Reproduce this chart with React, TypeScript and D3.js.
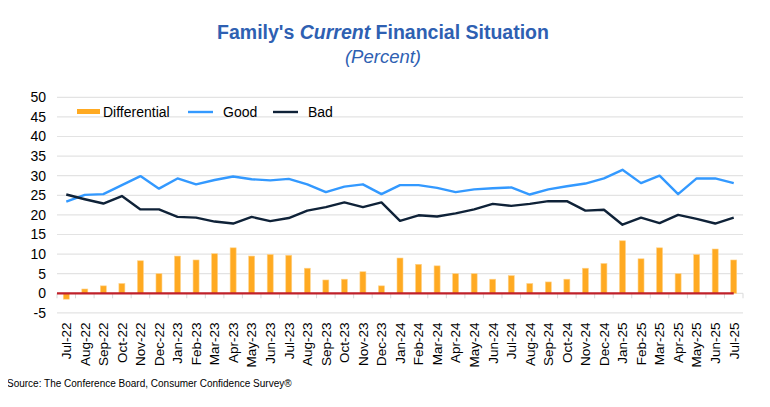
import * as d3 from "d3";

const months = [
  "Jul-22", "Aug-22", "Sep-22", "Oct-22", "Nov-22", "Dec-22",
  "Jan-23", "Feb-23", "Mar-23", "Apr-23", "May-23", "Jun-23",
  "Jul-23", "Aug-23", "Sep-23", "Oct-23", "Nov-23", "Dec-23",
  "Jan-24", "Feb-24", "Mar-24", "Apr-24", "May-24", "Jun-24",
  "Jul-24", "Aug-24", "Sep-24", "Oct-24", "Nov-24", "Dec-24",
  "Jan-25", "Feb-25", "Mar-25", "Apr-25", "May-25", "Jun-25", "Jul-25",
];

const good = [
  23.4, 25.1, 25.3, 27.6, 29.9, 26.7, 29.3, 27.8, 28.9, 29.8, 29.1, 28.8,
  29.2, 27.8, 25.8, 27.2, 27.8, 25.3, 27.6, 27.6, 26.9, 25.8, 26.5, 26.8,
  27.0, 25.2, 26.5, 27.3, 28.0, 29.3, 31.5, 28.1, 30.0, 25.3, 29.3, 29.3, 28.1,
];

const bad = [
  25.2, 24.0, 22.9, 24.8, 21.4, 21.4, 19.5, 19.3, 18.3, 17.8, 19.5, 18.4,
  19.2, 21.1, 22.0, 23.2, 22.0, 23.2, 18.5, 19.9, 19.6, 20.4, 21.4, 22.8,
  22.3, 22.8, 23.5, 23.5, 21.1, 21.3, 17.5, 19.3, 17.9, 20.0, 19.0, 17.8, 19.3,
];

const differential = [
  -1.5, 1.1, 1.9, 2.5, 8.3, 5.0, 9.5, 8.5, 10.1, 11.6, 9.5, 9.9,
  9.7, 6.4, 3.4, 3.6, 5.5, 1.9, 9.0, 7.4, 7.0, 5.0, 5.0, 3.6,
  4.5, 2.5, 2.9, 3.6, 6.4, 7.6, 13.4, 8.8, 11.6, 5.0, 9.9, 11.3, 8.5,
];

const yTicks = [-5, 0, 5, 10, 15, 20, 25, 30, 35, 40, 45, 50];

const W = 770;
const H = 407;
// plot box
const plot = { left: 57, right: 743, top: 97.3, bottom: 312.9 };
const font = "Arial, 'Liberation Sans', sans-serif";
const orange = "#FFAA22";
const blue = "#3399FF";
const navy = "#0F2238";
const red = "#C0202A";
const titleBlue = "#2E60B2";

export default function App() {
  const x = d3.scaleBand<string>().domain(months).range([plot.left, plot.right]);

  const y = d3.scaleLinear().domain([-5, 50]).range([plot.bottom, plot.top]);

  const cx = (m: string) => (x(m) ?? 0) + x.bandwidth() / 2;
  const barW = 6;

  const line = d3
    .line<number>()
    .x((_, i) => cx(months[i]))
    .y((d) => y(d));

  return (
    <div style={{ margin: -8 }}>
      <svg width={W} height={H} style={{ display: "block", fontFamily: font }}>
        <rect width={W} height={H} fill="#fff" />

        {/* Title */}
        <text x={383} y={39} textAnchor="middle" fontSize={19.5} fontWeight="bold" fill={titleBlue}>
          Family's <tspan fontStyle="italic">Current</tspan> Financial Situation
        </text>
        <text x={383} y={62.5} textAnchor="middle" fontSize={18.5} fontStyle="italic" fill={titleBlue}>
          (Percent)
        </text>

        {/* Grid + y labels */}
        {yTicks.map((t) => (
          <g key={t}>
            <line x1={plot.left} x2={plot.right} y1={y(t)} y2={y(t)} stroke="#E3E3E3" strokeWidth={1.2} />
            <text x={46} y={y(t)} dy="0.35em" textAnchor="end" fontSize={14} fill="#000">
              {t}
            </text>
          </g>
        ))}

        {/* Category ticks */}
        {months.map((m) => (
          <line key={"t" + m} x1={x(m)} x2={x(m)} y1={y(0)} y2={y(0) + 5} stroke="#D9D9D9" />
        ))}
        <line x1={plot.right} x2={plot.right} y1={y(0)} y2={y(0) + 5} stroke="#D9D9D9" />

        {/* Bars */}
        {differential.map((d, i) => (
          <rect
            key={"b" + i}
            x={cx(months[i]) - barW / 2}
            y={Math.min(y(d), y(0))}
            width={barW}
            height={Math.abs(y(d) - y(0))}
            fill={orange}
            stroke="#FFD38A"
            strokeWidth={0.6}
          />
        ))}

        {/* Zero line */}
        <line x1={plot.left} x2={cx(months[months.length - 1])} y1={y(0)} y2={y(0)} stroke={red} strokeWidth={2.2} />

        {/* Lines */}
        <path d={line(good) ?? ""} fill="none" stroke={blue} strokeWidth={2.4} strokeLinejoin="round" />
        <path d={line(bad) ?? ""} fill="none" stroke={navy} strokeWidth={2.4} strokeLinejoin="round" />

        {/* X labels */}
        {months.map((m) => (
          <text
            key={"l" + m}
            transform={`translate(${cx(m) + 4.8},${y(-5) + 9.5}) rotate(-90)`}
            textAnchor="end"
            fontSize={13.5}
            fill="#000"
          >
            {m}
          </text>
        ))}

        {/* Legend */}
        <rect x={77} y={109} width={23} height={5} fill={orange} />
        <text x={103} y={112} dy="0.35em" fontSize={14} fill="#000">Differential</text>
        <line x1={188} x2={213} y1={112} y2={112} stroke={blue} strokeWidth={2.4} />
        <text x={223} y={112} dy="0.35em" fontSize={14} fill="#000">Good</text>
        <line x1={273} x2={298} y1={112} y2={112} stroke={navy} strokeWidth={2.4} />
        <text x={308} y={112} dy="0.35em" fontSize={14} fill="#000">Bad</text>

        {/* Source */}
        <text x={7} y={387} fontSize={10} fill="#000">
          Source: The Conference Board, Consumer Confidence Survey®
        </text>
      </svg>
    </div>
  );
}
